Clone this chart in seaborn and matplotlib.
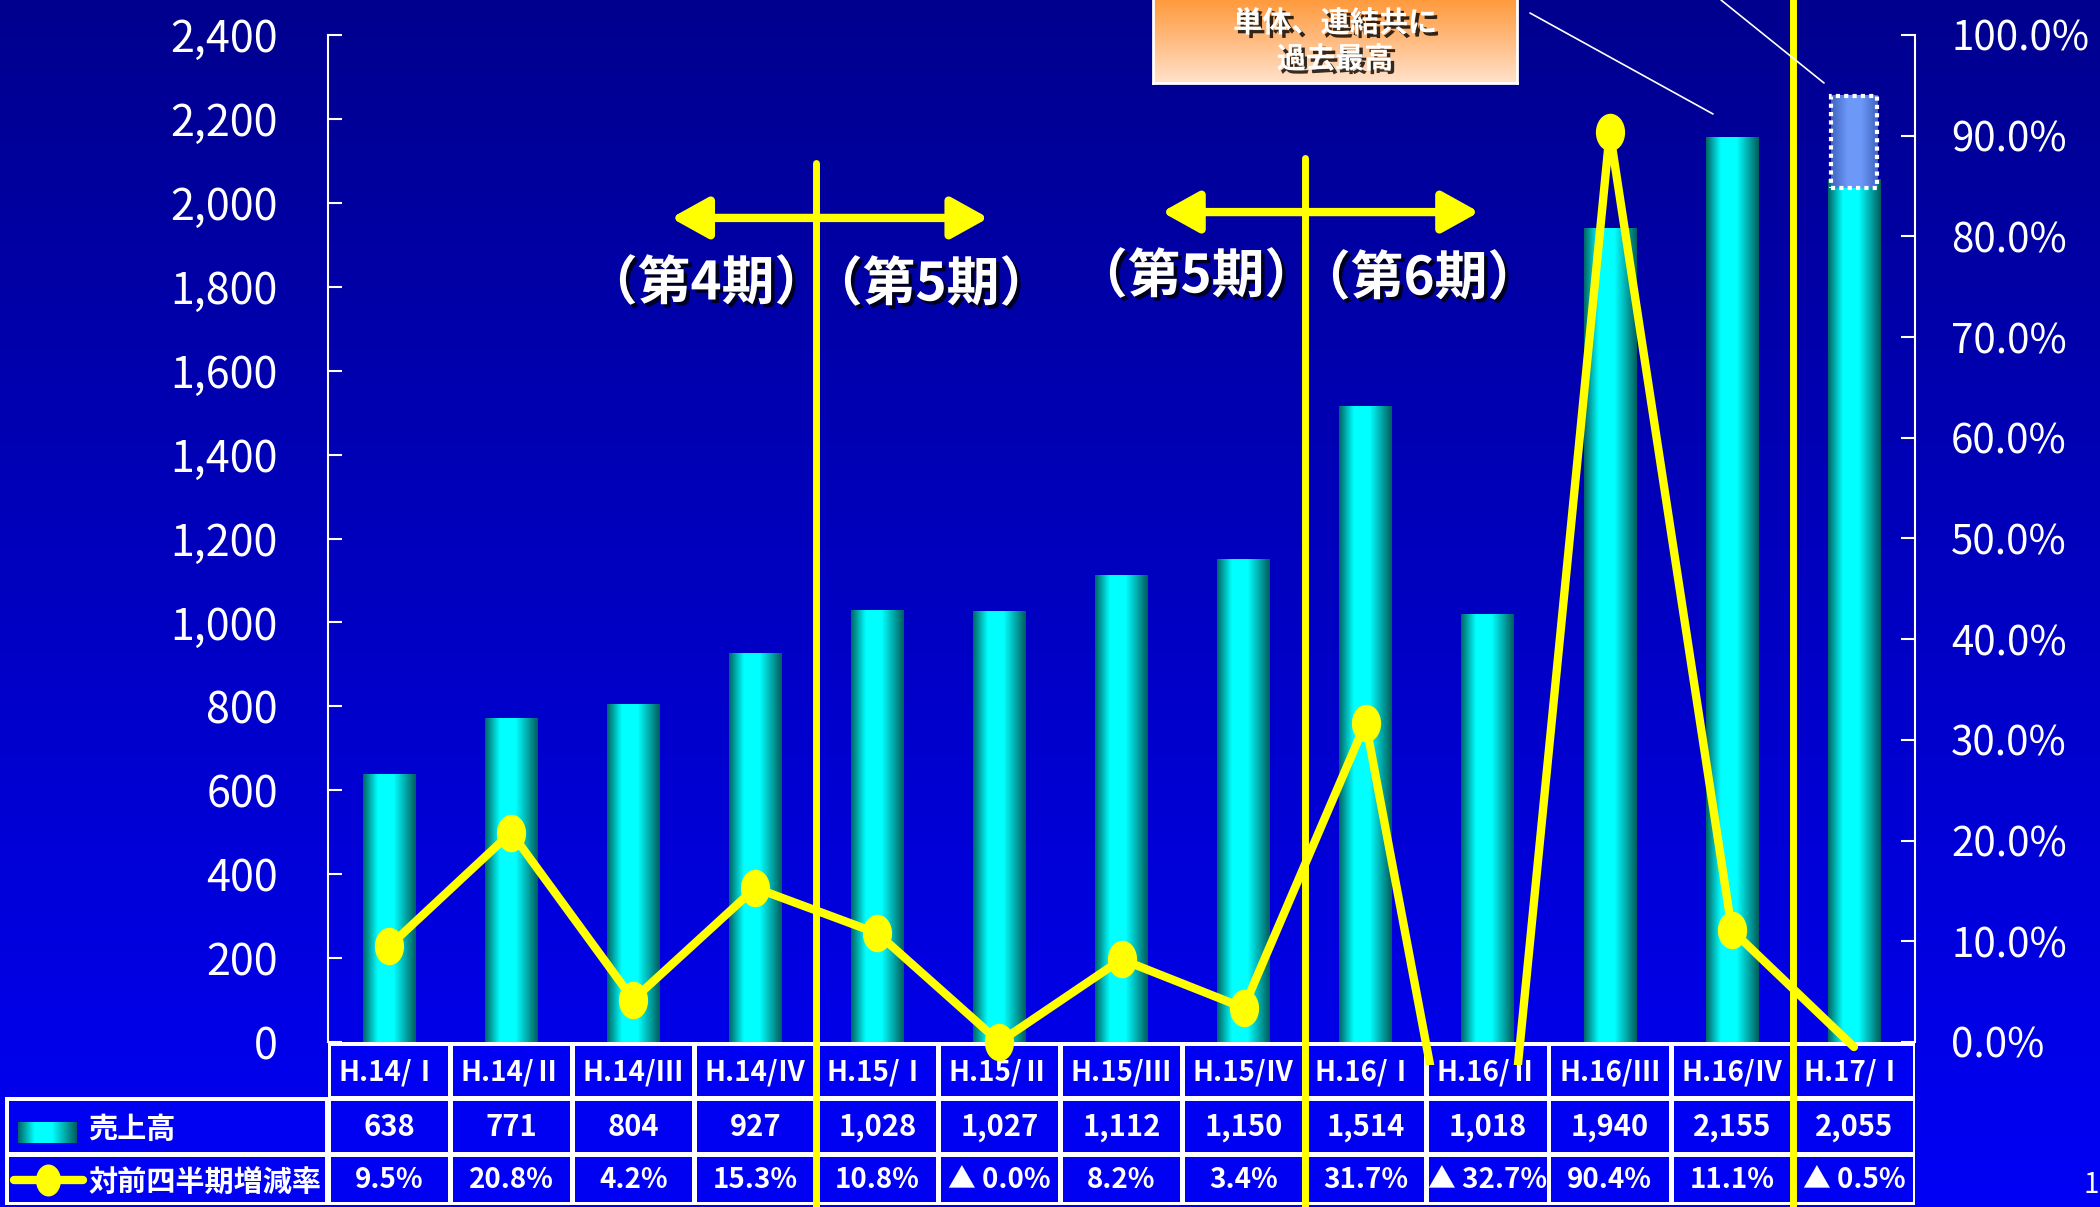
import numpy as np
import matplotlib
matplotlib.use("Agg")
import matplotlib.pyplot as plt
import seaborn as sns
from matplotlib.patches import Rectangle
from matplotlib.path import Path
from matplotlib.transforms import Affine2D, blended_transform_factory
from matplotlib.colors import LinearSegmentedColormap
from matplotlib.lines import Line2D
from matplotlib.ticker import FuncFormatter
import matplotlib.patheffects as pe

# ---------------- data ----------------
categories = ["H.14/Ⅰ", "H.14/Ⅱ", "H.14/Ⅲ", "H.14/Ⅳ", "H.15/Ⅰ", "H.15/Ⅱ", "H.15/Ⅲ",
              "H.15/Ⅳ", "H.16/Ⅰ", "H.16/Ⅱ", "H.16/Ⅲ", "H.16/Ⅳ", "H.17/Ⅰ"]
sales = [638, 771, 804, 927, 1028, 1027, 1112, 1150, 1514, 1018, 1940, 2155, 2055]
growth = [9.5, 20.8, 4.2, 15.3, 10.8, 0.0, 8.2, 3.4, 31.7, -32.7, 90.4, 11.1, -0.5]
growth_labels = ["9.5%", "20.8%", "4.2%", "15.3%", "10.8%", "▲ 0.0%", "8.2%", "3.4%",
                 "31.7%", "▲ 32.7%", "90.4%", "11.1%", "▲ 0.5%"]
sales_labels = [f"{v:,}" for v in sales]
row_headers = ["売上高", "対前四半期増減率"]
period_labels = ["（第4期）", "（第5期）", "（第5期）", "（第6期）"]
period_boundaries = [3.5, 7.5, 11.5]
callout_lines = ["単体、連結共に", "過去最高"]
forecast_box = (2035, 2255)
left_ticks = list(range(0, 2401, 200))
right_ticks = list(range(0, 101, 10))

# ---------------- style ----------------
sns.set_theme(style="white")
FONT = ["Noto Sans CJK JP", "DejaVu Sans"]
plt.rcParams["font.family"] = FONT

W, H = 2100, 1207
fig = plt.figure(figsize=(21, 12.07), dpi=100)
pxT = Affine2D().scale(1 / W, -1 / H).translate(0, 1) + fig.transFigure

# background gradient
bg = fig.add_axes([0, 0, 1, 1], zorder=-10)
bg.axis("off")
bg.imshow(np.linspace(0, 1, 256).reshape(-1, 1), aspect="auto", origin="upper",
          cmap=LinearSegmentedColormap.from_list("bg", ["#00008E", "#0000F6"]),
          extent=[0, 1, 0, 1])

bar_cmap = LinearSegmentedColormap.from_list(
    "bar", [(0, "#006464"), (0.28, "#00FFFF"), (0.58, "#00FFFF"), (1.0, "#005C5C")])
hgrad = np.linspace(0, 1, 256).reshape(1, -1)

ax = fig.add_axes([328 / W, 1 - 1042 / H, (1915 - 328) / W, (1042 - 35) / H])
ax.set_facecolor("none")

x = np.arange(len(categories))
sns.barplot(x=categories, y=sales, width=0.43, color="#00FFFF", ax=ax, saturation=1)
for p in ax.patches:
    x0, w, h = p.get_x(), p.get_width(), p.get_height()
    p.set_facecolor("none")
    p.set_edgecolor("none")
    ax.imshow(hgrad, cmap=bar_cmap, aspect="auto", extent=[x0, x0 + w, 0, h],
              zorder=2, interpolation="bilinear")

# dotted forecast box on last bar
box_cmap = LinearSegmentedColormap.from_list(
    "box", [(0, "#3F63C0"), (0.35, "#6D98F8"), (0.65, "#6D98F8"), (1, "#3F63C0")])
xb = x[-1]
ax.imshow(hgrad, cmap=box_cmap, aspect="auto",
          extent=[xb - 0.19, xb + 0.19, forecast_box[0], forecast_box[1]], zorder=3)
ax.add_patch(Rectangle((xb - 0.19, forecast_box[0]), 0.38, forecast_box[1] - forecast_box[0],
                       fc="none", ec="white", lw=3, ls=(0, (1, 1)), zorder=4))

ax.set_xlim(-0.5, len(categories) - 0.5)
ax.set_ylim(0, 2400)
ax.set_yticks(left_ticks)
ax.yaxis.set_major_formatter(FuncFormatter(lambda v, p: f"{int(v):,}"))
ax.tick_params(axis="y", direction="in", length=10, width=1.5, color="white",
               labelcolor="white", labelsize=31, pad=36, left=True)
ax.tick_params(axis="x", bottom=False, labelbottom=False)
ax.set_xlabel("")
ax.set_ylabel("")
for s in ["top", "right", "bottom"]:
    ax.spines[s].set_visible(False)
ax.spines["left"].set_color("white")
ax.spines["left"].set_linewidth(1.5)

# ---------------- growth line ----------------
ax2 = ax.twinx()
ellipse = Path.unit_circle().transformed(Affine2D().scale(0.77, 1.0))
sns.lineplot(x=x, y=growth, ax=ax2, color="yellow", lw=6, sort=False,
             solid_joinstyle="round", solid_capstyle="round")
clip_rect = Rectangle((0, -0.023), 1, 1.1, transform=ax2.transAxes, fill=False)
for ln in ax2.lines:
    ln.set_clip_path(clip_rect)
g = np.array(growth)
mask = g >= 0
ax2.plot(x[mask], g[mask], ls="none", marker=ellipse, ms=26, color="yellow",
         clip_on=False, zorder=5)
ax2.set_ylim(0, 100)
ax2.set_xlim(-0.5, len(categories) - 0.5)
ax2.set_yticks(right_ticks)
ax2.yaxis.set_major_formatter(FuncFormatter(lambda v, p: f"{v:.1f}%"))
ax2.tick_params(axis="y", direction="in", length=10, width=1.5, color="white",
                labelcolor="white", labelsize=29, pad=26, right=True)
ax2.tick_params(axis="x", bottom=False, labelbottom=False)
ax2.set_xlabel("")
ax2.set_ylabel("")
for s in ["top", "left", "bottom"]:
    ax2.spines[s].set_visible(False)
ax2.spines["right"].set_color("white")
ax2.spines["right"].set_linewidth(1.5)

# ---------------- data table ----------------
blend = blended_transform_factory(ax.transData, pxT)
CELL = "#0000F2"
n = len(categories)
ax.add_patch(Rectangle((-0.5, 1042), n, 1205 - 1042, transform=blend, fc="white",
                       ec="none", clip_on=False, zorder=6))
fig.add_artist(Rectangle((5, 1097), 330 - 5, 1205 - 1097, transform=pxT, fc="white",
                         ec="none", zorder=1))
rows = [(1046, 1096), (1101, 1152), (1157, 1202)]
for (top, bot) in rows:
    for i in range(n):
        ax.add_patch(Rectangle((i - 0.5 + 0.022, top), 1 - 0.04, bot - top, transform=blend,
                               fc=CELL, ec="none", clip_on=False, zorder=7))
for (top, bot) in rows[1:]:
    fig.add_artist(Rectangle((9, top), 325 - 9, bot - top, transform=pxT, fc=CELL,
                             ec="none", zorder=2))

row_texts = [categories, sales_labels, growth_labels]
row_sizes = [20, 21, 20]
for (top, bot), texts, fs in zip(rows, row_texts, row_sizes):
    yc = (top + bot) / 2
    for i, t in enumerate(texts):
        ax.text(i, yc + 1, t, transform=blend, ha="center", va="center", color="white",
                fontsize=fs, fontweight="bold", family=FONT, zorder=8, clip_on=False)

for (top, bot), t in zip(rows[1:], row_headers):
    fig.text(88 / W, 1 - ((top + bot) / 2 + 2) / H, t, ha="left", va="center",
             color="white", fontsize=21, fontweight="bold", family=FONT, zorder=3)

# legend swatches
sw = fig.add_axes([18 / W, 1 - 1143 / H, 59 / W, 21 / H], zorder=4)
sw.imshow(hgrad, cmap=bar_cmap, aspect="auto", interpolation="bilinear")
sw.axis("off")
fig.add_artist(Line2D([14, 83], [1180, 1180], transform=pxT, color="yellow", lw=6, zorder=4))
fig.add_artist(Line2D([48], [1180], transform=pxT, color="yellow", ls="none",
                      marker=ellipse, ms=22, zorder=4))

# ---------------- period markers ----------------
line_tops = [163, 158, 0]
for xbnd, top in zip(period_boundaries, line_tops):
    ax.add_line(Line2D([xbnd, xbnd], [top, H], transform=blend, color="yellow", lw=5,
                       zorder=20, clip_on=False))

arrow_kw = dict(arrowstyle="<|-|>,head_length=0.9,head_width=0.5", color="yellow",
                lw=6, mutation_scale=25, shrinkA=0, shrinkB=0)
ax.annotate("", xy=(4.91, 1964), xytext=(2.31, 1964), arrowprops=arrow_kw, zorder=20,
            annotation_clip=False)
ax.annotate("", xy=(8.93, 1978), xytext=(6.33, 1978), arrowprops=arrow_kw, zorder=20,
            annotation_clip=False)

shadow = [pe.withSimplePatchShadow(offset=(2.5, -2.5), shadow_rgbFace="black", alpha=0.8)]
for (px, py), t in zip([(706, 284), (931, 285), (1196, 277), (1419, 279)], period_labels):
    fig.text(px / W, 1 - py / H, t, ha="center", va="center", color="white", fontsize=38,
             fontweight="bold", family=FONT, path_effects=shadow, zorder=30)

# ---------------- callout ----------------
co = fig.add_axes([1153 / W, 1 - 83 / H, 364 / W, 86 / H], zorder=30)
co.imshow(np.linspace(0, 1, 256).reshape(-1, 1), aspect="auto", origin="upper",
          cmap=LinearSegmentedColormap.from_list("co", ["#FF9838", "#FFBB80", "#FFE2CC"]))
co.set_xticks([])
co.set_yticks([])
for s in co.spines.values():
    s.set_color("white")
    s.set_linewidth(2)
for (py, t) in zip([23, 59], callout_lines):
    fig.text(1335 / W, 1 - py / H, t, ha="center", va="center", color="white", fontsize=21,
             fontweight="bold", family=FONT, path_effects=shadow, zorder=40)
fig.add_artist(Line2D([1530, 1713], [13, 114], transform=pxT, color="white", lw=1.2, zorder=30))
fig.add_artist(Line2D([1721, 1824], [0, 83], transform=pxT, color="white", lw=1.2, zorder=30))

fig.text(2099 / W, 1 - 1185 / H, "1", ha="right", va="center", color="white", fontsize=20)

fig.savefig("out.png", dpi=100)
